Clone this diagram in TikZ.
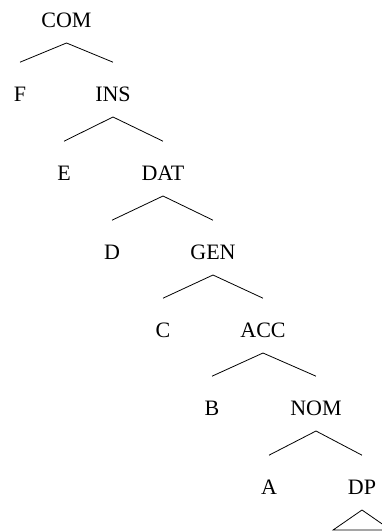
\documentclass[tikz,border=0pt]{standalone}
\usepackage{fontspec}
\setmainfont{Liberation Serif}
\usepackage{tikz}

\tikzset{cat/.style={anchor=base,inner xsep=3pt,inner ysep=15pt,text height=24pt,text depth=0pt,
        font=\fontsize{22}{26}\selectfont}}

\begin{document}
\begin{tikzpicture}[x=1pt,y=-1pt,line width=0.8pt]
            \useasboundingbox (0,0) rectangle (382,532);
            \node[cat] (com) at (66.5,27.6) {COM};
            \node[cat] (f) at (20,101.6) {F};
            \node[cat] (ins) at (113,101.6) {INS};
            \node[cat] (e) at (64,180.6) {E};
            \node[cat] (dat) at (163,180.6) {DAT};
            \node[cat] (d) at (112,259.6) {D};
            \node[cat] (gen) at (213,259.6) {GEN};
            \node[cat] (c) at (163,337.6) {C};
            \node[cat] (acc) at (263,337.6) {ACC};
            \node[cat] (b) at (212,415.6) {B};
            \node[cat] (nom) at (316,415.6) {NOM};
            \node[cat] (a) at (269,494.6) {A};
            \node[cat] (dp) at (362,494.6) {DP};
            \node[anchor=north,minimum width=57pt,inner sep=0pt] (dpbody) at (362,530) {};

            \draw (f.north) -- (com.south) -- (ins.north);
            \draw (e.north) -- (ins.south) -- (dat.north);
            \draw (d.north) -- (dat.south) -- (gen.north);
            \draw (c.north) -- (gen.south) -- (acc.north);
            \draw (b.north) -- (acc.south) -- (nom.north);
            \draw (a.north) -- (nom.south) -- (dp.north);
            \draw (dp.south) -- (dpbody.north west) -- (dpbody.north east) -- cycle;
        \end{tikzpicture}
\end{document}
